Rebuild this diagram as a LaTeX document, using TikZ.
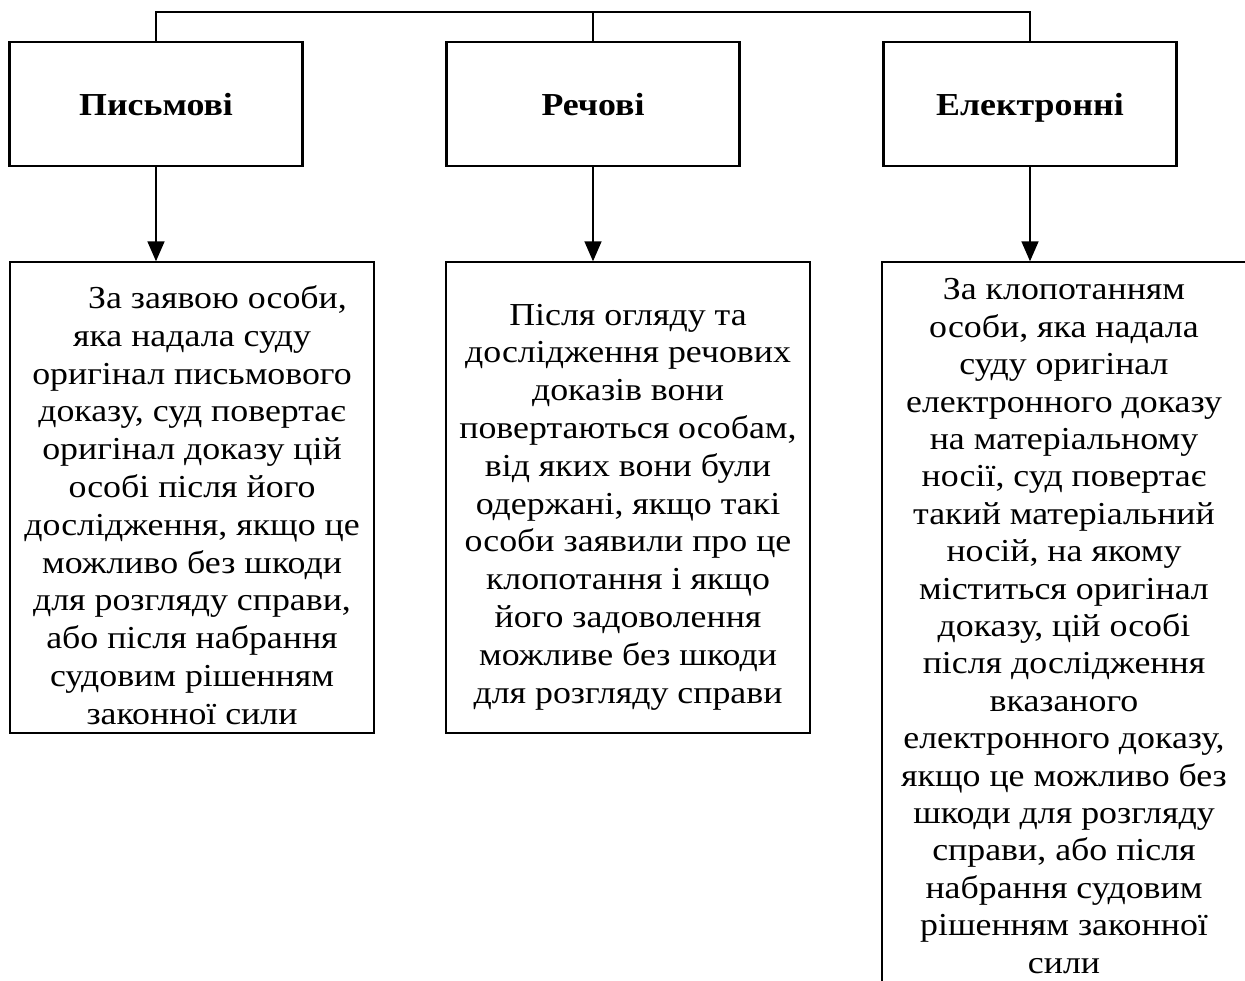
\documentclass[tikz,border=0pt]{standalone}
\usepackage{fontspec}
\setmainfont{Liberation Serif}
\newfontfamily\diagfont[FakeStretch=1.12]{Liberation Serif}
\usetikzlibrary{arrows.meta}
\begin{document}
\begin{tikzpicture}[x=1pt,y=-1pt,
  headbox/.style={draw, line width=2.6pt, minimum width=293pt, minimum height=124pt, inner sep=0pt,
    text height=26pt, text depth=3pt,
    font=\diagfont\fontsize{32}{38}\selectfont\bfseries},
  bodybox/.style={draw, line width=1.4pt, minimum width=364pt, inner sep=0pt},
  bodytext/.style={inner sep=0pt, align=center, font=\diagfont\fontsize{32}{37.8}\selectfont},
  conn/.style={line width=1.6pt},
  arr/.style={line width=1.6pt, -{Triangle[length=20pt,width=17pt]}}]
\useasboundingbox (0,0) rectangle (1245,981);
\clip (0,0) rectangle (1245,981);
\node[headbox] (h1) at (156,104) {Письмові};
\node[headbox] (h2) at (593,104) {Речові};
\node[headbox] (h3) at (1030,104) {Електронні};
\coordinate (t1) at (156,12);
\coordinate (t2) at (593,12);
\coordinate (t3) at (1030,12);
\draw[conn] (h1.north) -- (t1) -- (t3) -- (h3.north);
\draw[conn] (t2) -- (h2.north);
\node[bodybox, minimum height=471pt] (b1) at (192,497.5) {};
\node[bodybox, minimum height=471pt] (b2) at (628,497.5) {};
\node[bodybox, minimum height=760pt] (b3) at (1064,642) {};
\node[bodytext] (b1text) at (192,505) {\hspace*{51pt}За заявою особи,\\яка надала суду\\оригінал письмового\\доказу, суд повертає\\оригінал доказу цій\\особі після його\\дослідження, якщо це\\можливо без шкоди\\для розгляду справи,\\або після набрання\\судовим рішенням\\законної сили};
\node[bodytext] (b2text) at (628,507) {Після огляду та\\дослідження речових\\доказів вони\\повертаються особам,\\від яких вони були\\одержані, якщо такі\\особи заявили про це\\клопотання і якщо\\його задоволення\\можливе без шкоди\\для розгляду справи};
\node[bodytext, font=\diagfont\fontsize{32}{37.4}\selectfont] (b3text) at (1064,626) {За клопотанням\\особи, яка надала\\суду оригінал\\електронного доказу\\на матеріальному\\носії, суд повертає\\такий матеріальний\\носій, на якому\\міститься оригінал\\доказу, цій особі\\після дослідження\\вказаного\\електронного доказу,\\якщо це можливо без\\шкоди для розгляду\\справи, або після\\набрання судовим\\рішенням законної\\сили};
\draw[arr] (h1.south) -- (h1.south |- b1.north);
\draw[arr] (h2.south) -- (h2.south |- b2.north);
\draw[arr] (h3.south) -- (h3.south |- b3.north);
\end{tikzpicture}
\end{document}
